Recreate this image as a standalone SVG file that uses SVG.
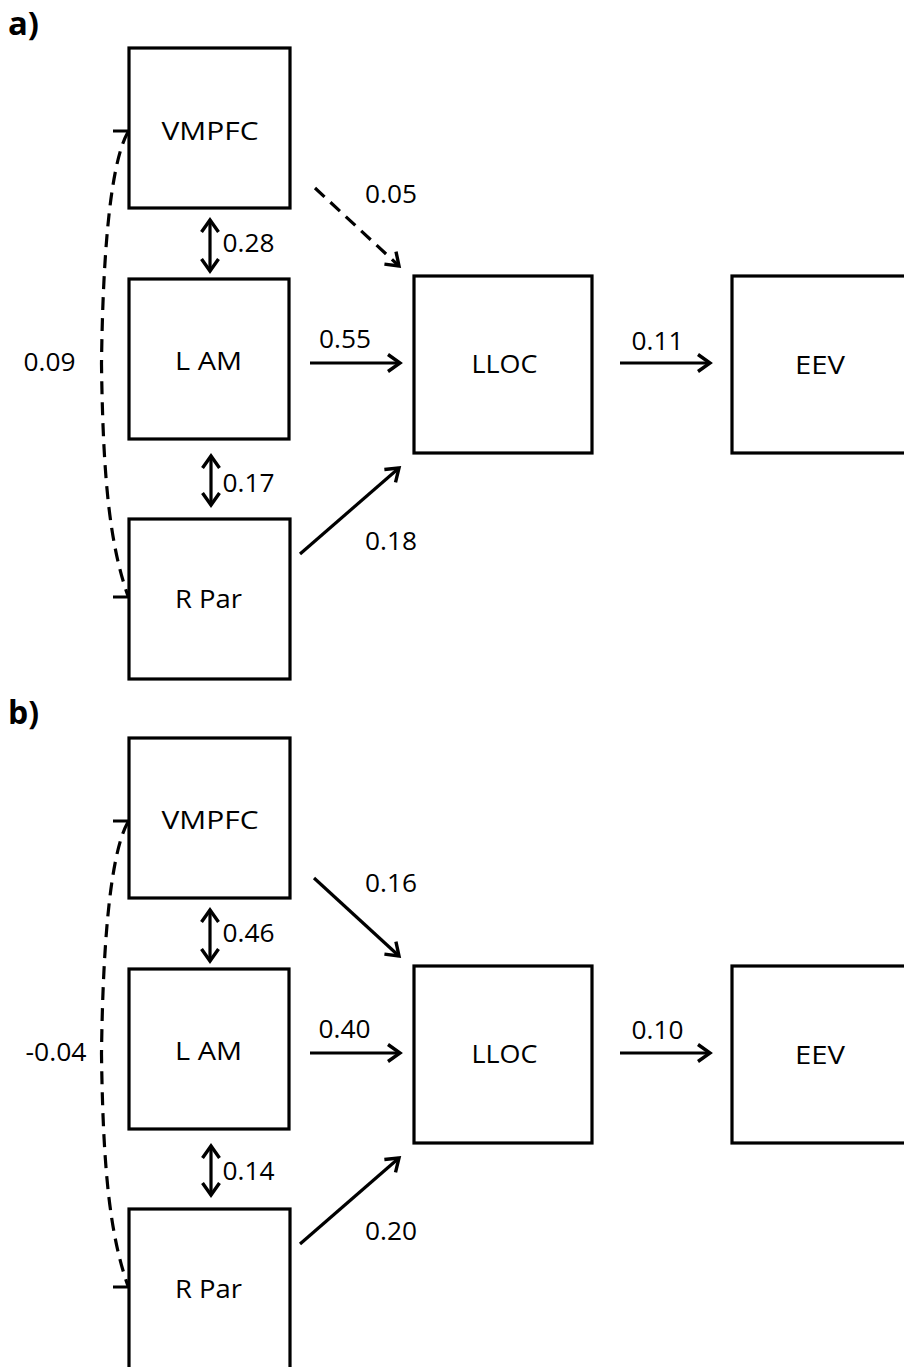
<svg xmlns="http://www.w3.org/2000/svg" width="904" height="1367" viewBox="0 0 904 1367">
<style>
.box{fill:#fff;stroke:#000;stroke-width:3.2}
.lbl{font-family:"Open Sans","Liberation Sans",sans-serif;font-size:26px;fill:#000}
.num{font-family:"Open Sans","Liberation Sans",sans-serif;font-size:26px;fill:#000}
.pan{font-family:"Open Sans","Liberation Sans",sans-serif;font-size:32px;font-weight:bold;fill:#000}
.ln{fill:none;stroke:#000;stroke-width:3.2}
.dash{stroke-dasharray:13 8}
</style>
<defs>
<marker id="ah" viewBox="-16 -11 19 22" refX="0" refY="0" markerWidth="19" markerHeight="22" markerUnits="userSpaceOnUse" orient="auto-start-reverse">
<path d="M-12,-8.5 L0,0 L-12,8.5" fill="none" stroke="#000" stroke-width="3.4"/>
</marker>
</defs>
<rect width="904" height="1367" fill="#fff"/>
<text class="pan" x="8" y="35" textLength="31" lengthAdjust="spacingAndGlyphs">a)</text>
<text class="pan" x="8" y="724" textLength="31" lengthAdjust="spacingAndGlyphs">b)</text>

<g id="panel-a">
<g id="a-vmpfc"><rect class="box" x="129" y="48" width="161" height="160"/><text class="lbl" x="161.5" y="140" textLength="97" lengthAdjust="spacingAndGlyphs">VMPFC</text></g>
<g id="a-lam"><rect class="box" x="129" y="279" width="160" height="160"/><text class="lbl" x="175" y="370" textLength="67" lengthAdjust="spacingAndGlyphs">L AM</text></g>
<g id="a-rpar"><rect class="box" x="129" y="519" width="161" height="160"/><text class="lbl" x="175" y="608" textLength="67" lengthAdjust="spacingAndGlyphs">R Par</text></g>
<g id="a-lloc"><rect class="box" x="414" y="276" width="178" height="177"/><text class="lbl" x="471.5" y="373" textLength="66" lengthAdjust="spacingAndGlyphs">LLOC</text></g>
<g id="a-eev"><rect class="box" x="732" y="276" width="200" height="177"/><text class="lbl" x="795" y="374" textLength="50" lengthAdjust="spacingAndGlyphs">EEV</text></g>
<g id="a-connectors">
<path class="ln" d="M210,220 L210,271" marker-start="url(#ah)" marker-end="url(#ah)"/>
<path class="ln" d="M211,456 L211,505" marker-start="url(#ah)" marker-end="url(#ah)"/>
<path class="ln" d="M310,363 L400,363" marker-end="url(#ah)"/>
<path class="ln" d="M620,363 L710,363" marker-end="url(#ah)"/>
<path class="ln dash" d="M315,188 L399,266" marker-end="url(#ah)"/>
<path class="ln" d="M300,554 L399,468" marker-end="url(#ah)"/>
<path class="ln dash" d="M128,132 C112,160 103,240 101.5,364 C103,480 110,545 128,596"/>
<path class="ln" d="M113,131 H129 M113,597 H129"/>
<text class="num" x="222.5" y="252" textLength="52" lengthAdjust="spacingAndGlyphs">0.28</text>
<text class="num" x="365" y="203" textLength="52" lengthAdjust="spacingAndGlyphs">0.05</text>
<text class="num" x="319" y="348" textLength="52" lengthAdjust="spacingAndGlyphs">0.55</text>
<text class="num" x="631.5" y="350" textLength="52" lengthAdjust="spacingAndGlyphs">0.11</text>
<text class="num" x="222.5" y="492" textLength="52" lengthAdjust="spacingAndGlyphs">0.17</text>
<text class="num" x="365" y="550" textLength="52" lengthAdjust="spacingAndGlyphs">0.18</text>
<text class="num" x="23.5" y="371" textLength="52" lengthAdjust="spacingAndGlyphs">0.09</text>
</g>
</g>

<g id="panel-b">
<g id="b-vmpfc"><rect class="box" x="129" y="738" width="161" height="160"/><text class="lbl" x="161.5" y="829" textLength="97" lengthAdjust="spacingAndGlyphs">VMPFC</text></g>
<g id="b-lam"><rect class="box" x="129" y="969" width="160" height="160"/><text class="lbl" x="175" y="1060" textLength="67" lengthAdjust="spacingAndGlyphs">L AM</text></g>
<g id="b-rpar"><rect class="box" x="129" y="1209" width="161" height="160"/><text class="lbl" x="175" y="1298" textLength="67" lengthAdjust="spacingAndGlyphs">R Par</text></g>
<g id="b-lloc"><rect class="box" x="414" y="966" width="178" height="177"/><text class="lbl" x="471.5" y="1063" textLength="66" lengthAdjust="spacingAndGlyphs">LLOC</text></g>
<g id="b-eev"><rect class="box" x="732" y="966" width="200" height="177"/><text class="lbl" x="795" y="1064" textLength="50" lengthAdjust="spacingAndGlyphs">EEV</text></g>
<g id="b-connectors">
<path class="ln" d="M210,910 L210,961" marker-start="url(#ah)" marker-end="url(#ah)"/>
<path class="ln" d="M211,1146 L211,1195" marker-start="url(#ah)" marker-end="url(#ah)"/>
<path class="ln" d="M310,1053 L400,1053" marker-end="url(#ah)"/>
<path class="ln" d="M620,1053 L710,1053" marker-end="url(#ah)"/>
<path class="ln" d="M314,878 L399,956" marker-end="url(#ah)"/>
<path class="ln" d="M300,1244 L399,1158" marker-end="url(#ah)"/>
<path class="ln dash" d="M128,822 C112,850 103,930 101.5,1054 C103,1170 110,1235 128,1286"/>
<path class="ln" d="M113,821 H129 M113,1287 H129"/>
<text class="num" x="222.5" y="942" textLength="52" lengthAdjust="spacingAndGlyphs">0.46</text>
<text class="num" x="365" y="892" textLength="52" lengthAdjust="spacingAndGlyphs">0.16</text>
<text class="num" x="318.5" y="1038" textLength="52" lengthAdjust="spacingAndGlyphs">0.40</text>
<text class="num" x="631.5" y="1039" textLength="52" lengthAdjust="spacingAndGlyphs">0.10</text>
<text class="num" x="222.5" y="1180" textLength="52" lengthAdjust="spacingAndGlyphs">0.14</text>
<text class="num" x="365" y="1240" textLength="52" lengthAdjust="spacingAndGlyphs">0.20</text>
<text class="num" x="25.5" y="1061" textLength="61" lengthAdjust="spacingAndGlyphs">-0.04</text>
</g>
</g>
</svg>
